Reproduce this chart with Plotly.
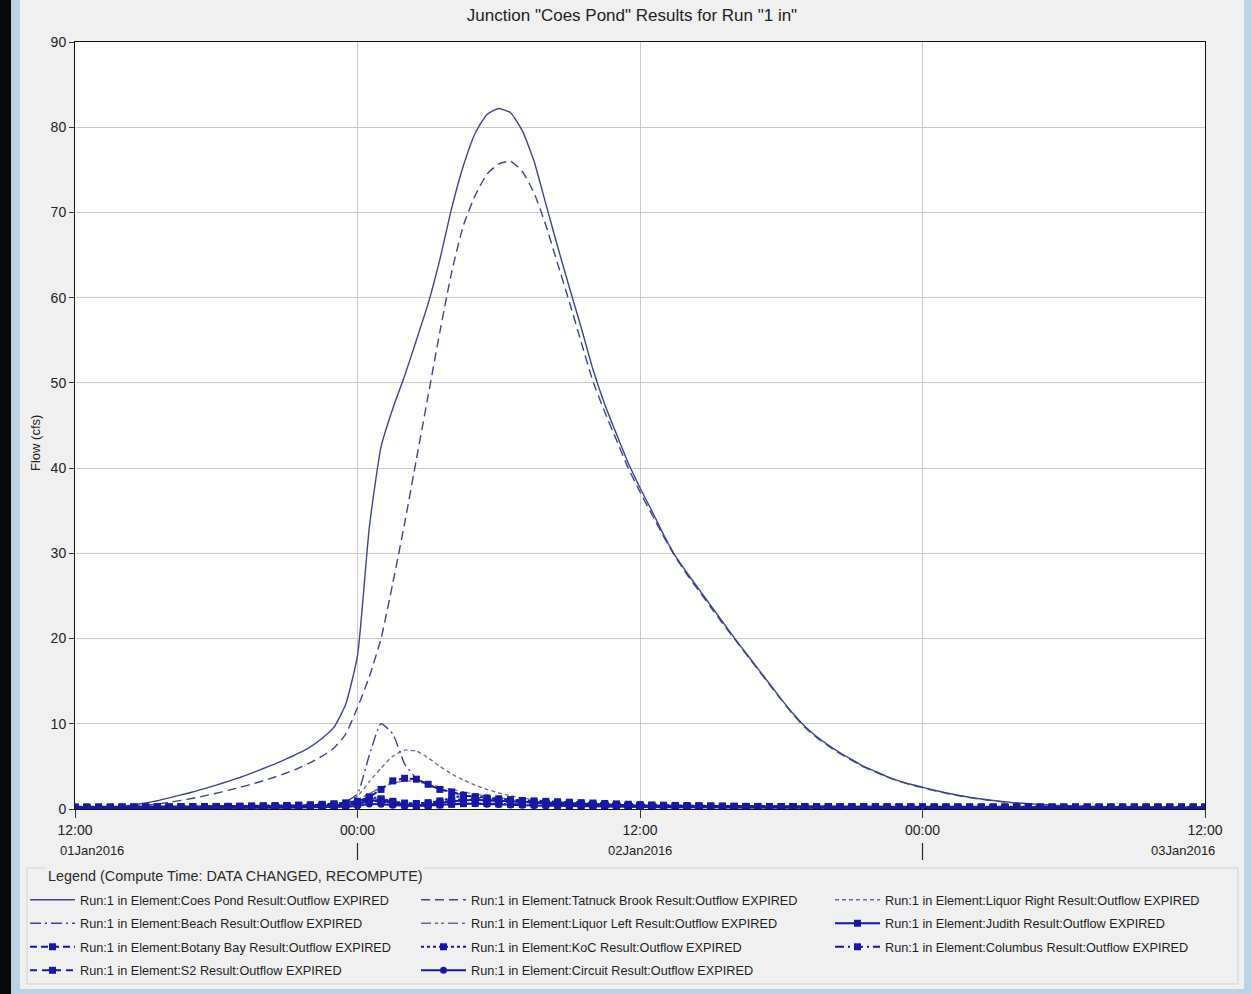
import plotly.graph_objects as go

# ---- time axis: hours after 12:00 01Jan2016, half-hour steps ----
hours = [i / 2 for i in range(97)]

tick_hours = [0, 12, 24, 36, 48]
tick_labels = ["12:00", "00:00", "12:00", "00:00", "12:00"]
date_labels = ["01Jan2016", "02Jan2016", "03Jan2016"]
day_break_hours = [12, 36]

# ---- outflow hydrographs (cfs) ----
coes_pond = [
    0.10, 0.12, 0.16, 0.22, 0.33, 0.48, 0.70, 0.97, 1.30, 1.65,
    2.00, 2.40, 2.80, 3.25, 3.70, 4.20, 4.75, 5.30, 5.90, 6.55,
    7.30, 8.30, 9.60, 12.3, 18.0, 33.0, 42.5, 47.0, 50.8, 55.0,
    59.3, 64.5, 70.5, 75.5, 79.3, 81.5, 82.2, 81.7, 79.6, 76.0,
    71.0, 66.0, 61.2, 56.5, 51.6, 47.5, 44.0, 40.6, 37.7, 35.0,
    32.2, 29.7, 27.7, 25.8, 23.9, 22.0, 20.1, 18.3, 16.5, 14.7,
    12.9, 11.2, 9.70, 8.50, 7.50, 6.60, 5.80, 5.00, 4.40, 3.80,
    3.30, 2.90, 2.55, 2.20, 1.90, 1.62, 1.38, 1.18, 1.00, 0.85,
    0.72, 0.62, 0.53, 0.46, 0.40, 0.35, 0.31, 0.28, 0.26, 0.24,
    0.22, 0.21, 0.20, 0.20, 0.20, 0.20, 0.20,
]
tatnuck_brook = [
    0.05, 0.06, 0.08, 0.12, 0.19, 0.30, 0.43, 0.60, 0.79, 1.01,
    1.26, 1.54, 1.85, 2.18, 2.53, 2.91, 3.32, 3.76, 4.25, 4.80,
    5.45, 6.20, 7.15, 8.80, 11.9, 15.5, 20.0, 26.5, 33.5, 41.0,
    48.5, 56.0, 63.0, 68.5, 72.0, 74.5, 75.7, 76.0, 74.8, 72.3,
    68.5, 64.0, 59.5, 54.8, 50.2, 46.6, 43.3, 40.0, 37.2, 34.6,
    32.0, 29.6, 27.5, 25.6, 23.7, 21.8, 20.0, 18.2, 16.4, 14.6,
    12.8, 11.1, 9.60, 8.40, 7.40, 6.50, 5.70, 4.95, 4.35, 3.75,
    3.25, 2.85, 2.50, 2.15, 1.85, 1.58, 1.34, 1.14, 0.96, 0.82,
    0.69, 0.59, 0.50, 0.43, 0.37, 0.32, 0.28, 0.25, 0.22, 0.20,
    0.18, 0.17, 0.16, 0.15, 0.15, 0.14, 0.14,
]
liquor_right = [
    0.02, 0.02, 0.03, 0.03, 0.04, 0.05, 0.06, 0.07, 0.08, 0.09,
    0.10, 0.11, 0.12, 0.13, 0.14, 0.16, 0.18, 0.21, 0.25, 0.30,
    0.36, 0.44, 0.55, 0.80, 1.50, 3.20, 4.80, 6.20, 6.90, 6.80,
    6.00, 5.00, 4.10, 3.40, 2.80, 2.30, 1.90, 1.55, 1.30, 1.10,
    0.95, 0.85, 0.75, 0.68, 0.60, 0.55, 0.50, 0.46, 0.42, 0.39,
    0.36, 0.33, 0.31, 0.29, 0.27, 0.25, 0.23, 0.22, 0.21, 0.20,
    0.19, 0.18, 0.17, 0.16, 0.15, 0.14, 0.13, 0.12, 0.12, 0.11,
    0.11, 0.10, 0.10, 0.10, 0.09, 0.09, 0.09, 0.08, 0.08, 0.08,
    0.08, 0.07, 0.07, 0.07, 0.07, 0.07, 0.06, 0.06, 0.06, 0.06,
    0.06, 0.06, 0.06, 0.05, 0.05, 0.05, 0.05,
]
beach = [
    0.05, 0.05, 0.05, 0.06, 0.06, 0.07, 0.08, 0.09, 0.10, 0.11,
    0.12, 0.14, 0.16, 0.18, 0.20, 0.23, 0.26, 0.29, 0.33, 0.38,
    0.44, 0.52, 0.62, 0.85, 1.80, 6.30, 10.0, 8.80, 5.30, 3.60,
    2.80, 2.30, 1.95, 1.65, 1.40, 1.20, 1.03, 0.90, 0.80, 0.71,
    0.64, 0.58, 0.53, 0.48, 0.44, 0.40, 0.37, 0.34, 0.31, 0.29,
    0.27, 0.25, 0.23, 0.22, 0.20, 0.19, 0.18, 0.17, 0.16, 0.15,
    0.14, 0.14, 0.13, 0.13, 0.12, 0.12, 0.11, 0.11, 0.11, 0.10,
    0.10, 0.10, 0.10, 0.09, 0.09, 0.09, 0.09, 0.09, 0.08, 0.08,
    0.08, 0.08, 0.08, 0.08, 0.08, 0.08, 0.08, 0.08, 0.08, 0.08,
    0.08, 0.08, 0.08, 0.08, 0.08, 0.08, 0.08,
]
liquor_left = [
    0.03, 0.03, 0.04, 0.04, 0.05, 0.06, 0.07, 0.08, 0.09, 0.10,
    0.11, 0.12, 0.14, 0.16, 0.18, 0.20, 0.22, 0.25, 0.28, 0.31,
    0.35, 0.40, 0.48, 0.65, 1.10, 1.80, 2.50, 3.00, 3.30, 3.20,
    2.90, 2.60, 2.30, 2.00, 1.75, 1.50, 1.30, 1.12, 0.98, 0.86,
    0.76, 0.68, 0.61, 0.55, 0.50, 0.46, 0.42, 0.39, 0.36, 0.33,
    0.31, 0.29, 0.27, 0.25, 0.24, 0.22, 0.21, 0.20, 0.19, 0.18,
    0.17, 0.16, 0.15, 0.15, 0.14, 0.13, 0.13, 0.12, 0.12, 0.11,
    0.11, 0.10, 0.10, 0.10, 0.09, 0.09, 0.09, 0.09, 0.08, 0.08,
    0.08, 0.08, 0.08, 0.07, 0.07, 0.07, 0.07, 0.07, 0.07, 0.07,
    0.06, 0.06, 0.06, 0.06, 0.06, 0.06, 0.06,
]
judith = [
    0.18, 0.18, 0.18, 0.19, 0.19, 0.20, 0.20, 0.21, 0.21, 0.22,
    0.22, 0.23, 0.24, 0.25, 0.26, 0.27, 0.28, 0.29, 0.30, 0.32,
    0.34, 0.36, 0.40, 0.48, 0.60, 0.90, 1.10, 0.80, 0.55, 0.45,
    0.50, 0.70, 0.90, 1.00, 1.10, 1.00, 0.95, 0.90, 0.85, 0.80,
    0.75, 0.70, 0.65, 0.60, 0.55, 0.51, 0.48, 0.45, 0.42, 0.40,
    0.38, 0.36, 0.34, 0.33, 0.32, 0.31, 0.30, 0.29, 0.28, 0.27,
    0.26, 0.26, 0.25, 0.25, 0.24, 0.24, 0.23, 0.23, 0.22, 0.22,
    0.22, 0.21, 0.21, 0.21, 0.20, 0.20, 0.20, 0.20, 0.20, 0.20,
    0.19, 0.19, 0.19, 0.19, 0.19, 0.19, 0.19, 0.19, 0.19, 0.19,
    0.19, 0.19, 0.19, 0.19, 0.19, 0.19, 0.19,
]
botany_bay = [
    0.15, 0.15, 0.16, 0.16, 0.17, 0.18, 0.19, 0.20, 0.21, 0.22,
    0.23, 0.25, 0.27, 0.29, 0.31, 0.33, 0.36, 0.39, 0.42, 0.46,
    0.50, 0.55, 0.62, 0.72, 0.90, 1.40, 2.30, 3.30, 3.60, 3.50,
    2.90, 2.30, 2.00, 1.60, 1.35, 1.15, 1.00, 0.90, 0.80, 0.72,
    0.65, 0.60, 0.55, 0.50, 0.46, 0.43, 0.40, 0.38, 0.36, 0.34,
    0.33, 0.32, 0.31, 0.30, 0.29, 0.28, 0.28, 0.27, 0.27, 0.26,
    0.26, 0.25, 0.25, 0.24, 0.24, 0.23, 0.23, 0.23, 0.22, 0.22,
    0.22, 0.22, 0.21, 0.21, 0.21, 0.21, 0.21, 0.20, 0.20, 0.20,
    0.20, 0.20, 0.20, 0.20, 0.20, 0.20, 0.20, 0.20, 0.20, 0.20,
    0.20, 0.20, 0.20, 0.20, 0.20, 0.20, 0.20,
]
koc = [
    0.20, 0.20, 0.21, 0.21, 0.22, 0.22, 0.23, 0.24, 0.25, 0.26,
    0.27, 0.28, 0.29, 0.30, 0.31, 0.32, 0.33, 0.34, 0.35, 0.37,
    0.39, 0.42, 0.46, 0.55, 0.75, 1.40, 1.20, 0.90, 0.70, 0.65,
    0.75, 0.95, 1.25, 1.60, 1.45, 1.30, 1.20, 1.10, 1.00, 0.95,
    0.90, 0.85, 0.80, 0.75, 0.70, 0.65, 0.60, 0.56, 0.52, 0.48,
    0.45, 0.42, 0.40, 0.38, 0.36, 0.34, 0.32, 0.31, 0.30, 0.29,
    0.28, 0.27, 0.26, 0.25, 0.25, 0.24, 0.24, 0.23, 0.23, 0.22,
    0.22, 0.22, 0.21, 0.21, 0.21, 0.21, 0.20, 0.20, 0.20, 0.20,
    0.20, 0.20, 0.20, 0.20, 0.20, 0.20, 0.20, 0.20, 0.20, 0.20,
    0.20, 0.20, 0.20, 0.20, 0.20, 0.20, 0.20,
]
columbus = [
    0.12, 0.12, 0.12, 0.13, 0.13, 0.13, 0.14, 0.14, 0.15, 0.15,
    0.16, 0.16, 0.17, 0.18, 0.19, 0.20, 0.21, 0.22, 0.24, 0.26,
    0.28, 0.30, 0.34, 0.40, 0.55, 1.20, 0.95, 0.60, 0.45, 0.40,
    0.42, 0.48, 0.55, 0.62, 0.66, 0.64, 0.60, 0.56, 0.52, 0.49,
    0.46, 0.43, 0.40, 0.38, 0.36, 0.34, 0.32, 0.30, 0.29, 0.28,
    0.27, 0.26, 0.25, 0.24, 0.23, 0.22, 0.21, 0.21, 0.20, 0.20,
    0.19, 0.19, 0.18, 0.18, 0.17, 0.17, 0.17, 0.16, 0.16, 0.16,
    0.15, 0.15, 0.15, 0.15, 0.14, 0.14, 0.14, 0.14, 0.14, 0.13,
    0.13, 0.13, 0.13, 0.13, 0.13, 0.13, 0.12, 0.12, 0.12, 0.12,
    0.12, 0.12, 0.12, 0.12, 0.12, 0.12, 0.12,
]
s2 = [
    0.25, 0.25, 0.25, 0.25, 0.26, 0.26, 0.26, 0.27, 0.27, 0.28,
    0.28, 0.29, 0.30, 0.31, 0.32, 0.33, 0.34, 0.35, 0.37, 0.39,
    0.41, 0.44, 0.48, 0.55, 0.70, 1.00, 0.85, 0.65, 0.55, 0.52,
    0.58, 0.75, 1.00, 1.15, 1.05, 0.95, 0.88, 0.82, 0.76, 0.70,
    0.65, 0.60, 0.56, 0.52, 0.49, 0.46, 0.44, 0.42, 0.40, 0.38,
    0.37, 0.36, 0.35, 0.34, 0.33, 0.32, 0.31, 0.30, 0.30, 0.29,
    0.29, 0.28, 0.28, 0.27, 0.27, 0.27, 0.26, 0.26, 0.26, 0.26,
    0.25, 0.25, 0.25, 0.25, 0.25, 0.25, 0.25, 0.25, 0.25, 0.25,
    0.25, 0.25, 0.25, 0.25, 0.25, 0.25, 0.25, 0.25, 0.25, 0.25,
    0.25, 0.25, 0.25, 0.25, 0.25, 0.25, 0.25,
]
circuit = [
    0.08, 0.08, 0.08, 0.08, 0.09, 0.09, 0.09, 0.10, 0.10, 0.10,
    0.11, 0.11, 0.12, 0.12, 0.13, 0.13, 0.14, 0.15, 0.16, 0.17,
    0.18, 0.20, 0.22, 0.26, 0.35, 0.60, 0.55, 0.45, 0.38, 0.36,
    0.40, 0.48, 0.58, 0.66, 0.62, 0.56, 0.52, 0.48, 0.44, 0.41,
    0.38, 0.35, 0.33, 0.31, 0.29, 0.27, 0.25, 0.24, 0.23, 0.22,
    0.21, 0.20, 0.19, 0.18, 0.17, 0.16, 0.16, 0.15, 0.15, 0.14,
    0.14, 0.13, 0.13, 0.13, 0.12, 0.12, 0.12, 0.11, 0.11, 0.11,
    0.11, 0.10, 0.10, 0.10, 0.10, 0.10, 0.10, 0.09, 0.09, 0.09,
    0.09, 0.09, 0.09, 0.09, 0.09, 0.09, 0.08, 0.08, 0.08, 0.08,
    0.08, 0.08, 0.08, 0.08, 0.08, 0.08, 0.08,
]

element_names = [
    "Coes Pond", "Tatnuck Brook", "Liquor Right", "Beach", "Liquor Left",
    "Judith", "Botany Bay", "KoC", "Columbus", "S2", "Circuit",
]
series_values = [
    coes_pond, tatnuck_brook, liquor_right, beach, liquor_left,
    judith, botany_bay, koc, columbus, s2, circuit,
]

# ---- styling ----
SLATE = "#3d4787"
GREY_BLUE = "#68699a"
NAVY = "#1717a8"
FONT = "Liberation Sans, Arial, sans-serif"
PAPER = "#f0f0f0"

# name -> (colour, width, dash, marker symbol or None, legend column)
styles = {
    "Coes Pond":     (SLATE, 1.4, "solid", None, "legend"),
    "Tatnuck Brook": (SLATE, 1.4, "9px,5px", None, "legend2"),
    "Liquor Right":  (GREY_BLUE, 1.3, "4px,3px", None, "legend3"),
    "Beach":         (SLATE, 1.4, "11px,4px,2px,4px", None, "legend"),
    "Liquor Left":   (GREY_BLUE, 1.3, "10px,4px,3px,3px,3px,4px", None, "legend2"),
    "Judith":        (NAVY, 2.0, "solid", "square", "legend3"),
    "Botany Bay":    (NAVY, 2.0, "7px,4px", "square", "legend"),
    "KoC":           (NAVY, 2.0, "3px,3px", "square", "legend2"),
    "Columbus":      (NAVY, 2.0, "9px,4px,2px,4px", "square", "legend3"),
    "S2":            (NAVY, 2.0, "7px,5px", "square", "legend"),
    "Circuit":       (NAVY, 2.0, "solid", "circle", "legend2"),
}

fig = go.Figure()
for name, values in zip(element_names, series_values):
    color, width, dash, symbol, legend_id = styles[name]
    trace = dict(
        x=hours,
        y=values,
        name=f"Run:1 in Element:{name} Result:Outflow EXPIRED",
        legend=legend_id,
        legendgroup=name,
        line=dict(color=color, width=width, dash=dash),
        hoverinfo="skip",
    )
    if symbol is None:
        trace.update(mode="lines", line_shape="spline", line_smoothing=0.5)
    else:
        trace.update(mode="lines+markers",
                     marker=dict(symbol=symbol, size=7, color=color))
    fig.add_trace(go.Scatter(**trace))

# ---- page geometry ----
W, H = 1251, 994
ML, MR, MT, MB = 75, 46, 42, 185
PW, PH = W - ML - MR, H - MT - MB


def px_x(px):
    return (px - ML) / PW


def px_y(py):
    return (H - MB - py) / PH


legend_common = dict(
    orientation="v", xanchor="left", yanchor="top",
    bgcolor="rgba(0,0,0,0)", borderwidth=0,
    font=dict(family=FONT, size=12.7, color="#1e1e1e"),
    itemwidth=45, tracegroupgap=4, itemclick=False, itemdoubleclick=False,
)

shapes = [
    # window frame strips
    dict(type="rect", xref="paper", yref="paper", x0=px_x(0), x1=px_x(11),
         y0=px_y(H), y1=px_y(0), fillcolor="#0a0a0a", line_width=0, layer="below"),
    dict(type="rect", xref="paper", yref="paper", x0=px_x(11), x1=px_x(20),
         y0=px_y(H), y1=px_y(0), fillcolor="#bcd3e6", line_width=0, layer="below"),
    dict(type="rect", xref="paper", yref="paper", x0=px_x(1244), x1=px_x(W),
         y0=px_y(H), y1=px_y(0), fillcolor="#bcd3e6", line_width=0, layer="below"),
    dict(type="rect", xref="paper", yref="paper", x0=px_x(20), x1=px_x(1244),
         y0=px_y(H), y1=px_y(989), fillcolor="#bcd3e6", line_width=0, layer="below"),
    # legend group box
    dict(type="rect", xref="paper", yref="paper", x0=px_x(27), x1=px_x(1238),
         y0=px_y(984), y1=px_y(868), fillcolor="rgba(0,0,0,0)",
         line=dict(color="#d3d3d3", width=1), layer="below"),
]
# day separators under the time labels
for h in day_break_hours:
    shapes.append(dict(type="line", xref="x", yref="paper", x0=h, x1=h,
                       y0=px_y(843), y1=px_y(860),
                       line=dict(color="#2a2a2a", width=1.2)))

annotations = [
    dict(text="Flow (cfs)", xref="paper", yref="paper", x=px_x(35), y=px_y(443),
         xanchor="center", yanchor="middle", textangle=-90, showarrow=False,
         font=dict(family=FONT, size=13, color="#222")),
    dict(text="Legend (Compute Time: DATA CHANGED, RECOMPUTE)", xref="paper",
         yref="paper", x=px_x(46), y=px_y(876), xanchor="left", yanchor="middle",
         showarrow=False, bgcolor=PAPER, borderpad=1,
         font=dict(family=FONT, size=14.4, color="#2a2a2a")),
    dict(text=date_labels[0], xref="x", yref="paper", x=tick_hours[0], y=px_y(851),
         xanchor="left", yanchor="middle", xshift=-17, showarrow=False,
         font=dict(family=FONT, size=13, color="#222")),
    dict(text=date_labels[1], xref="x", yref="paper", x=tick_hours[2], y=px_y(851),
         xanchor="center", yanchor="middle", showarrow=False,
         font=dict(family=FONT, size=13, color="#222")),
    dict(text=date_labels[2], xref="x", yref="paper", x=tick_hours[4], y=px_y(851),
         xanchor="right", yanchor="middle", xshift=12, showarrow=False,
         font=dict(family=FONT, size=13, color="#222")),
]

fig.update_layout(
    width=W, height=H,
    margin=dict(l=ML, r=MR, t=MT, b=MB, autoexpand=False),
    paper_bgcolor=PAPER, plot_bgcolor="white",
    font=dict(family=FONT, color="#222"),
    title=dict(text='Junction "Coes Pond" Results for Run "1 in"',
               xref="paper", x=px_x(632), xanchor="center",
               yref="container", y=1 - 15 / H, yanchor="middle",
               font=dict(family=FONT, size=17, color="#222")),
    showlegend=True,
    legend=dict(x=px_x(25), y=px_y(885), **legend_common),
    legend2=dict(x=px_x(416), y=px_y(885), **legend_common),
    legend3=dict(x=px_x(830), y=px_y(885), **legend_common),
    shapes=shapes,
    annotations=annotations,
    xaxis=dict(range=[0, 48], tickvals=tick_hours, ticktext=tick_labels,
               showgrid=True, gridcolor="#cbcbcb", gridwidth=1,
               showline=True, linecolor="#111", linewidth=1, mirror=True,
               ticks="outside", ticklen=8, tickcolor="#333",
               tickfont=dict(family=FONT, size=14, color="#222"), zeroline=False),
    yaxis=dict(range=[0, 90], dtick=10, showgrid=True, gridcolor="#cbcbcb",
               showline=True, linecolor="#111", linewidth=1, mirror=True,
               ticks="outside", ticklen=5, tickcolor="#333",
               tickfont=dict(family=FONT, size=14, color="#222"), zeroline=False),
)

fig.write_html("out.html")
